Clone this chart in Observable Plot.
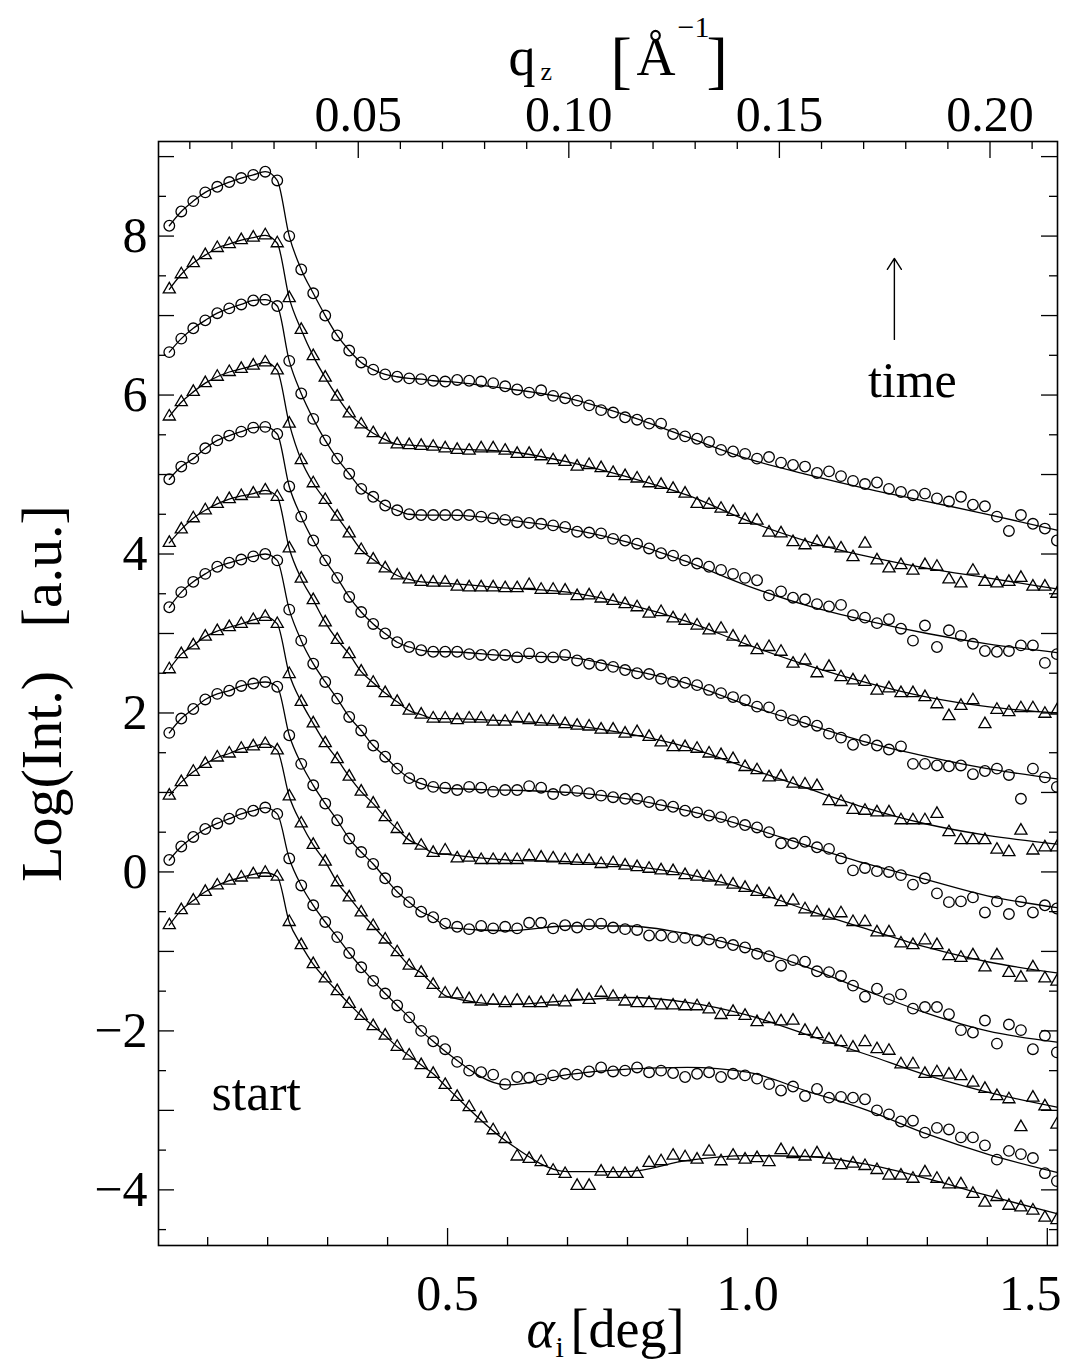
<!DOCTYPE html>
<html><head><meta charset="utf-8">
<script src="https://cdn.jsdelivr.net/npm/d3@7"></script>
<script src="https://cdn.jsdelivr.net/npm/@observablehq/plot@0.6"></script>
<style>body{margin:0;background:#fff}</style>
</head><body><div id="chart"></div>
<script>
// incidence angle grid (deg)
const alpha = [0.036,0.056,0.076,0.096,0.116,0.136,0.156,0.176,0.196,0.216,
0.236,0.256,0.276,0.296,0.316,0.336,0.356,0.376,0.396,0.416,
0.436,0.456,0.476,0.496,0.516,0.536,0.556,0.576,0.596,0.616,
0.636,0.656,0.676,0.696,0.716,0.736,0.756,0.776,0.796,0.816,
0.836,0.856,0.876,0.896,0.916,0.936,0.956,0.976,0.996,1.016,
1.036,1.056,1.076,1.096,1.116,1.136,1.156,1.176,1.196,1.216,
1.236,1.256,1.276,1.296,1.316,1.336,1.356,1.376,1.396,1.416,
1.436,1.456,1.476,1.496,1.516];

// measured curves, bottom (start) to top (latest), offset by 0.8 each
const t0 = [-0.67,-0.48,-0.36,-0.25,-0.17,-0.11,-0.07,-0.03,-0.01,-0.06,
-0.63,-0.92,-1.16,-1.34,-1.50,-1.66,-1.81,-1.94,-2.06,-2.20,-2.31,-2.43,-2.54,-2.68,
-2.83,-2.96,-3.10,-3.25,-3.36,-3.58,-3.61,-3.65,-3.76,-3.80,-3.95,-3.95,-3.77,-3.80,-3.80,-3.80,-3.66,-3.64,-3.57,-3.59,-3.62,-3.52,-3.64,-3.57,-3.62,-3.60,
-3.65,-3.50,-3.55,-3.58,-3.54,-3.62,-3.69,-3.67,-3.70,-3.75,-3.82,-3.82,-3.86,-3.78,-3.86,-3.93,-3.93,-4.05,-4.16,-4.09,-4.20,-4.22,-4.26,-4.35,-4.38];
const c1 = [0.15,0.32,0.44,0.54,0.61,0.67,0.73,0.77,0.81,0.73,
0.17,-0.17,-0.42,-0.63,-0.82,-1.02,-1.20,-1.37,-1.53,-1.68,-1.83,-2.00,-2.13,-2.23,
-2.39,-2.50,-2.52,-2.55,-2.67,-2.58,-2.59,-2.61,-2.56,-2.54,-2.55,-2.51,-2.46,-2.51,-2.50,-2.46,-2.52,-2.50,-2.53,-2.58,-2.54,-2.52,-2.58,-2.54,-2.56,-2.60,
-2.67,-2.75,-2.70,-2.82,-2.73,-2.84,-2.83,-2.84,-2.86,-3.00,-3.05,-3.14,-3.13,-3.28,-3.22,-3.24,-3.34,-3.34,-3.44,-3.62,-3.51,-3.55,-3.60,-3.79,-3.89];
const t2 = [0.96,1.13,1.26,1.36,1.44,1.49,1.55,1.58,1.61,1.53,
0.95,0.61,0.34,0.13,-0.13,-0.32,-0.51,-0.68,-0.85,-1.01,-1.18,-1.27,-1.42,-1.53,
-1.54,-1.60,-1.63,-1.62,-1.65,-1.62,-1.65,-1.65,-1.63,-1.64,-1.56,-1.61,-1.52,-1.57,-1.63,-1.65,-1.65,-1.68,-1.68,-1.69,-1.69,-1.73,-1.80,-1.76,-1.81,-1.89,
-1.85,-1.88,-1.87,-2.00,-2.04,-2.11,-2.14,-2.21,-2.14,-2.23,-2.25,-2.42,-2.42,-2.54,-2.52,-2.55,-2.57,-2.65,-2.73,-2.82,-2.86,-3.21,-2.84,-2.95,-3.18];
const c3 = [1.75,1.93,2.05,2.17,2.24,2.28,2.34,2.37,2.39,2.33,
1.72,1.36,1.09,0.86,0.65,0.42,0.25,0.10,-0.08,-0.25,-0.38,-0.50,-0.57,-0.65,
-0.69,-0.72,-0.68,-0.71,-0.69,-0.71,-0.64,-0.64,-0.71,-0.67,-0.70,-0.66,-0.65,-0.70,-0.72,-0.73,-0.80,-0.80,-0.82,-0.83,-0.86,-0.85,-0.89,-0.92,-0.95,-1.03,
-1.06,-1.18,-1.11,-1.13,-1.25,-1.26,-1.31,-1.43,-1.57,-1.47,-1.60,-1.54,-1.72,-1.70,-1.70,-1.79,-1.99,-2.02,-1.87,-2.16,-1.92,-1.99,-2.23,-2.06,-2.27];
const t4 = [2.55,2.74,2.85,2.96,3.03,3.08,3.12,3.17,3.21,3.12,
2.49,2.14,1.87,1.62,1.42,1.20,1.01,0.86,0.69,0.54,0.40,0.33,0.24,0.27,
0.17,0.18,0.15,0.15,0.15,0.15,0.20,0.18,0.17,0.15,0.14,0.14,0.10,0.11,0.08,0.06,0.04,0.02,0.01,-0.04,-0.06,-0.07,-0.12,-0.16,-0.20,-0.25,
-0.28,-0.38,-0.36,-0.47,-0.51,-0.55,-0.52,-0.63,-0.63,-0.76,-0.76,-0.90,-0.92,-0.86,-0.92,-1.06,-1.08,-1.05,-1.20,-1.05,-1.27,-1.33,-1.20,-1.34,-1.38];
const c5 = [3.33,3.52,3.65,3.75,3.84,3.89,3.93,3.97,4.00,3.92,
3.30,2.91,2.62,2.39,2.18,1.95,1.78,1.59,1.45,1.30,1.18,1.11,1.07,1.06,
1.03,1.07,1.06,1.01,1.03,1.03,1.08,1.06,0.98,1.03,1.02,0.99,0.96,0.94,0.92,0.92,0.88,0.84,0.82,0.77,0.75,0.71,0.69,0.63,0.59,0.56,
0.50,0.36,0.36,0.38,0.31,0.29,0.17,0.02,0.05,0.01,0.00,-0.04,-0.16,-0.08,-0.27,-0.38,-0.37,-0.32,-0.51,-0.37,-0.53,-0.37,-0.51,-0.42,-0.46];
const t6 = [4.14,4.31,4.45,4.55,4.63,4.69,4.73,4.76,4.80,4.72,
4.07,3.69,3.42,3.14,2.92,2.74,2.52,2.38,2.25,2.14,2.03,1.98,1.93,1.93,
1.91,1.93,1.93,1.89,1.89,1.93,1.91,1.89,1.89,1.86,1.84,1.83,1.79,1.79,1.74,1.76,1.70,1.63,1.57,1.57,1.55,1.49,1.47,1.42,1.32,1.28,
1.19,1.20,1.11,1.10,1.08,0.89,0.88,0.78,0.77,0.75,0.75,0.65,0.65,0.65,0.73,0.50,0.40,0.40,0.40,0.28,0.25,0.52,0.27,0.31,0.31];
const c7 = [4.94,5.10,5.20,5.33,5.43,5.49,5.54,5.59,5.60,5.51,
4.85,4.47,4.17,3.92,3.70,3.46,3.27,3.12,3.00,2.89,2.83,2.79,2.77,2.77,
2.77,2.74,2.73,2.73,2.73,2.70,2.75,2.70,2.70,2.73,2.66,2.62,2.60,2.58,2.54,2.50,2.49,2.43,2.39,2.38,2.35,2.29,2.25,2.20,2.16,2.08,
2.07,1.97,1.91,1.89,1.84,1.74,1.69,1.60,1.66,1.59,1.54,1.58,1.36,1.36,1.34,1.33,1.34,1.23,1.27,1.30,1.22,0.92,1.30,1.19,1.07];
const t8 = [5.73,5.91,6.04,6.15,6.23,6.29,6.33,6.37,6.41,6.31,
5.64,5.18,4.89,4.68,4.47,4.26,4.05,3.93,3.82,3.73,3.68,3.65,3.64,3.64,
3.59,3.58,3.58,3.58,3.57,3.57,3.61,3.55,3.55,3.54,3.47,3.48,3.44,3.41,3.37,3.33,3.25,3.27,3.19,3.16,3.10,3.04,3.06,2.96,2.89,2.79,
2.83,2.77,2.62,2.66,2.50,2.58,2.45,2.41,2.39,2.28,2.31,2.25,2.25,2.20,2.11,1.96,2.09,2.16,1.86,2.04,2.01,2.06,2.06,1.99,2.03];
const c9 = [6.54,6.71,6.84,6.94,7.03,7.09,7.14,7.19,7.20,7.12,
6.43,6.02,5.70,5.43,5.20,5.01,4.82,4.72,4.61,4.55,4.50,4.49,4.49,4.49,
4.49,4.49,4.47,4.45,4.43,4.40,4.39,4.38,4.36,4.34,4.28,4.27,4.26,4.19,4.17,4.13,4.07,4.01,3.98,3.92,3.88,3.84,3.80,3.75,3.70,3.67,
3.48,3.53,3.45,3.43,3.37,3.34,3.36,3.23,3.20,3.13,3.18,3.06,2.91,3.10,2.83,3.04,2.97,2.87,2.78,2.77,2.78,2.85,2.85,2.63,2.74];
const t10 = [7.33,7.52,7.66,7.76,7.85,7.90,7.95,7.98,8.01,7.91,
7.22,6.82,6.49,6.22,5.98,5.77,5.63,5.52,5.44,5.38,5.37,5.36,5.35,5.33,
5.31,5.30,5.33,5.33,5.30,5.26,5.26,5.23,5.18,5.16,5.10,5.12,5.08,5.02,4.98,4.95,4.89,4.87,4.82,4.76,4.63,4.62,4.57,4.53,4.43,4.42,
4.27,4.26,4.15,4.11,4.15,4.13,4.07,3.96,4.13,3.92,3.82,3.86,3.79,3.86,3.84,3.68,3.63,3.79,3.65,3.63,3.65,3.70,3.59,3.59,3.50];
const c11 = [8.13,8.31,8.44,8.55,8.62,8.68,8.73,8.77,8.81,8.70,
8.00,7.58,7.28,7.00,6.75,6.56,6.41,6.32,6.26,6.23,6.21,6.20,6.18,6.17,
6.19,6.18,6.17,6.15,6.11,6.07,6.03,6.06,5.99,5.96,5.93,5.87,5.81,5.78,5.72,5.69,5.64,5.64,5.51,5.48,5.45,5.41,5.31,5.29,5.26,5.20,
5.22,5.15,5.12,5.10,5.02,5.04,4.98,4.92,4.88,4.90,4.82,4.78,4.74,4.76,4.70,4.66,4.72,4.62,4.60,4.47,4.29,4.49,4.38,4.32,4.17];

// fitted model curves beyond the critical region
const fitAlpha = [0.5,0.6,0.7,0.8,0.9,1.0,1.1,1.2,1.3,1.4,1.516];
const fitT0  = [-2.72,-3.40,-3.77,-3.77,-3.63,-3.57,-3.58,-3.68,-3.86,-4.07,-4.30];
const fitC1  = [-2.28,-2.68,-2.55,-2.48,-2.46,-2.52,-2.76,-3.00,-3.30,-3.55,-3.78];
const fitT2  = [-1.57,-1.67,-1.62,-1.58,-1.64,-1.80,-2.05,-2.30,-2.56,-2.77,-2.96];
const fitC3  = [-0.70,-0.74,-0.68,-0.68,-0.78,-0.96,-1.20,-1.50,-1.78,-2.00,-2.14];
const fitT4  = [0.22,0.15,0.13,0.08,-0.03,-0.22,-0.48,-0.72,-0.95,-1.13,-1.27];
const fitC5  = [1.05,1.03,1.00,0.92,0.77,0.57,0.33,0.10,-0.10,-0.30,-0.45];
const fitT6  = [1.93,1.90,1.85,1.74,1.57,1.31,1.05,0.80,0.60,0.46,0.35];
const fitC7  = [2.77,2.72,2.70,2.55,2.37,2.10,1.86,1.63,1.45,1.30,1.17];
const fitT8  = [3.63,3.57,3.52,3.37,3.15,2.86,2.60,2.38,2.20,2.08,2.00];
const fitC9  = [4.49,4.43,4.32,4.15,3.90,3.60,3.35,3.16,3.00,2.87,2.76];
const fitT10 = [5.33,5.29,5.16,4.97,4.74,4.42,4.16,3.97,3.82,3.70,3.56];
const fitC11 = [6.17,6.08,5.96,5.74,5.47,5.20,5.00,4.82,4.66,4.50,4.30];

// axis ticks and labels
const xLabelTicks = [0.5, 1.0];
const xLabelEdge = [1.5];
const xMajorTicks = [0.5, 1.0, 1.5];
const xMinorTicks = [0.1,0.2,0.3,0.4,0.6,0.7,0.8,0.9,1.1,1.2,1.3,1.4];
const qMajorTicks = [0.05, 0.10, 0.15, 0.20];
const qMinorTicks = [0.01,0.02,0.03,0.04,0.06,0.07,0.08,0.09,0.11,0.12,0.13,0.14,0.16,0.17,0.18,0.19,0.21];
const yLabelTicks = [-4,-2,0,2,4,6,8];
const yIntTicks = [-4,-3,-2,-1,0,1,2,3,4,5,6,7,8,9];
const yHalfTicks = [-4.5,-3.5,-2.5,-1.5,-0.5,0.5,1.5,2.5,3.5,4.5,5.5,6.5,7.5,8.5];
const wavelength = 1.54; // Å, q_z = 4π sin(α)/λ

const annoArrow = [{x: 1.245, y1: 6.70, y2: 7.72}];
const annoTime = [{x: 1.275, y: 5.97, label: "time"}];
const annoStart = [{x: 0.181, y: -3.00, label: "start"}];

const series = [
  {id:"t0", values:t0, fit:fitT0, symbol:"triangle"},
  {id:"c1", values:c1, fit:fitC1, symbol:"circle"},
  {id:"t2", values:t2, fit:fitT2, symbol:"triangle"},
  {id:"c3", values:c3, fit:fitC3, symbol:"circle"},
  {id:"t4", values:t4, fit:fitT4, symbol:"triangle"},
  {id:"c5", values:c5, fit:fitC5, symbol:"circle"},
  {id:"t6", values:t6, fit:fitT6, symbol:"triangle"},
  {id:"c7", values:c7, fit:fitC7, symbol:"circle"},
  {id:"t8", values:t8, fit:fitT8, symbol:"triangle"},
  {id:"c9", values:c9, fit:fitC9, symbol:"circle"},
  {id:"t10", values:t10, fit:fitT10, symbol:"triangle"},
  {id:"c11", values:c11, fit:fitC11, symbol:"circle"}
];

const points = series.flatMap(s => s.values.map((v, i) => ({a: alpha[i], v, id: s.id, symbol: s.symbol})));
const lineData = series.flatMap(s => [
  ...s.values.slice(0, 23).map((v, i) => ({a: alpha[i], v, id: s.id})),
  ...s.fit.map((v, i) => ({a: fitAlpha[i], v, id: s.id}))
]);

const qToAlpha = q => Math.asin(q * wavelength / (4 * Math.PI)) * 180 / Math.PI;
const fmtY = d => d < 0 ? "\u2212" + Math.abs(d) : String(d);

const W = 1070, H = 1365, ML = 158, MR = 13, MT = 141, MB = 120;
const innerW = W - ML - MR, innerH = H - MT - MB;
const FONT = "Liberation Serif, serif";
const txt = (s, o) => Plot.text([s], {text: d => d, fontFamily: FONT, fill: "black", ...o});

const chart = Plot.plot({
  width: W, height: H,
  marginLeft: ML, marginRight: MR, marginTop: MT, marginBottom: MB,
  x: {domain: [0.018, 1.517], axis: null},
  y: {domain: [-4.70, 9.19], axis: null},
  style: {fontFamily: FONT, background: "white", color: "black"},
  marks: [
    Plot.line(lineData, {x: "a", y: "v", z: "id", curve: "monotone-x", stroke: "black", strokeWidth: 1.3}),
    Plot.dot(points.filter(d => d.symbol === "circle"), {x: "a", y: "v", r: 5.3, symbol: "circle", stroke: "black", fill: "none", strokeWidth: 1.3, clip: true}),
    Plot.dot(points.filter(d => d.symbol === "triangle"), {x: "a", y: "v", r: 4.5, symbol: "triangle", stroke: "black", fill: "none", strokeWidth: 1.3, clip: true}),
    Plot.frame({stroke: "black", strokeWidth: 1.6}),
    // bottom ticks
    Plot.tickX(xMinorTicks, {x: d => d, insetTop: innerH - 8, stroke: "black", strokeWidth: 1.3}),
    Plot.tickX(xMajorTicks, {x: d => d, insetTop: innerH - 17, stroke: "black", strokeWidth: 1.3}),
    // top ticks (q_z)
    Plot.tickX(qMinorTicks, {x: qToAlpha, insetBottom: innerH - 8, stroke: "black", strokeWidth: 1.3}),
    Plot.tickX(qMajorTicks, {x: qToAlpha, insetBottom: innerH - 17, stroke: "black", strokeWidth: 1.3}),
    // left / right ticks
    Plot.tickY(yHalfTicks, {y: d => d, insetRight: innerW - 8, stroke: "black", strokeWidth: 1.3}),
    Plot.tickY(yIntTicks, {y: d => d, insetRight: innerW - 16, stroke: "black", strokeWidth: 1.3}),
    Plot.tickY(yHalfTicks, {y: d => d, insetLeft: innerW - 8, stroke: "black", strokeWidth: 1.3}),
    Plot.tickY(yIntTicks, {y: d => d, insetLeft: innerW - 16, stroke: "black", strokeWidth: 1.3}),
    // tick labels
    Plot.text(xLabelTicks, {x: d => d, frameAnchor: "bottom", dy: 64, lineAnchor: "bottom", text: d => d.toFixed(1), fontSize: 50, fontFamily: FONT, fill: "black"}),
    Plot.text(xLabelEdge, {x: d => d, frameAnchor: "bottom", dy: 64, dx: -17, lineAnchor: "bottom", text: d => d.toFixed(1), fontSize: 50, fontFamily: FONT, fill: "black"}),
    Plot.text(qMajorTicks, {x: qToAlpha, frameAnchor: "top", dy: -11, lineAnchor: "bottom", text: d => d.toFixed(2), fontSize: 50, fontFamily: FONT, fill: "black"}),
    Plot.text(yLabelTicks, {y: d => d, frameAnchor: "left", dx: -11, textAnchor: "end", lineAnchor: "middle", text: fmtY, fontSize: 50, fontFamily: FONT, fill: "black"}),
    // axis titles
    txt("\u03b1", {frameAnchor: "bottom-left", dx: 368, dy: 101, lineAnchor: "bottom", fontSize: 54, fontStyle: "italic"}),
    txt("i", {frameAnchor: "bottom-left", dx: 397, dy: 111, lineAnchor: "bottom", fontSize: 30}),
    txt("[deg]", {frameAnchor: "bottom-left", dx: 412, dy: 101, lineAnchor: "bottom", textAnchor: "start", fontSize: 54}),
    txt("q", {frameAnchor: "top-left", dx: 350, dy: -67, lineAnchor: "bottom", fontSize: 54}),
    txt("z", {frameAnchor: "top-left", dx: 382, dy: -62, lineAnchor: "bottom", fontSize: 26}),
    txt("[", {frameAnchor: "top-left", dx: 452, dy: -61, lineAnchor: "bottom", fontSize: 64}),
    txt("\u00c5", {frameAnchor: "top-left", dx: 478, dy: -67, lineAnchor: "bottom", fontSize: 54}),
    txt("\u22121", {frameAnchor: "top-left", dx: 519, dy: -105, lineAnchor: "bottom", fontSize: 30}),
    txt("]", {frameAnchor: "top-left", dx: 548, dy: -61, lineAnchor: "bottom", fontSize: 64}),
    txt("Log(Int.)   [a.u.]", {frameAnchor: "left", dx: -116, rotate: -90, fontSize: 58, textAnchor: "middle", lineAnchor: "middle"}),
    // annotations
    Plot.arrow(annoArrow, {x: "x", y1: "y1", y2: "y2", stroke: "black", strokeWidth: 1.4, headLength: 14, headAngle: 65}),
    Plot.text(annoTime, {x: "x", y: "y", text: "label", lineAnchor: "bottom", fontSize: 50, fontFamily: FONT, fill: "black"}),
    Plot.text(annoStart, {x: "x", y: "y", text: "label", lineAnchor: "bottom", fontSize: 52, fontFamily: FONT, fill: "black"})
  ]
});
document.getElementById("chart").appendChild(chart);
</script>
</body></html>
